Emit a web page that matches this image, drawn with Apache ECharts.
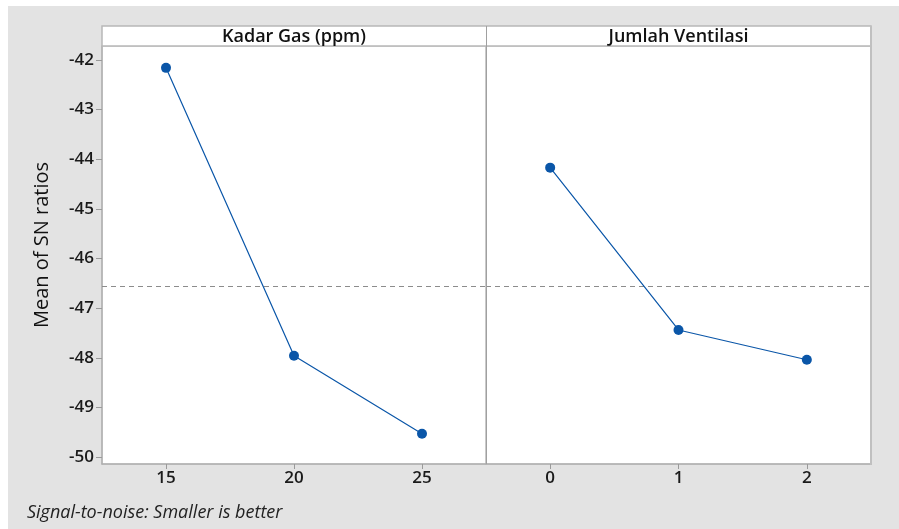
<!DOCTYPE html>
<html>
<head>
<meta charset="utf-8">
<script src="https://cdn.jsdelivr.net/npm/echarts@6/dist/echarts.min.js"></script>
<style>
html,body{margin:0;padding:0;background:#fff;}
#chart{width:899px;height:529px;}
</style>
</head>
<body>
<div id="chart"></div>
<script>
// ---- data ----
var gasLevels = ['15', '20', '25'];
var gasSN = [-42.16, -47.96, -49.53];
var ventLevels = ['0', '1', '2'];
var ventSN = [-44.17, -47.44, -48.04];
var overallMean = -46.55;
var yTicks = [-50, -49, -48, -47, -46, -45, -44, -43, -42];
var panelTitles = ['Kadar Gas (ppm)', 'Jumlah Ventilasi'];
var yTitle = 'Mean of SN ratios';
var footnote = 'Signal-to-noise: Smaller is better';

var FONT = '"Open Sans", "Noto Sans", sans-serif';
var BLUE = '#0a56a8';
var L = 102, MID = 486, R = 871, TOP = 46, STRIP = 26, BOT = 464;

var chart = echarts.init(document.getElementById('chart'), null, {renderer: 'canvas'});

function yAxisCfg(idx, show) {
  return {
    type: 'value', gridIndex: idx, min: -50.14, max: -41.72,
    splitLine: {show: false},
    axisLine: {show: show, lineStyle: {color: '#b0b0b0', width: 1.5}},
    axisTick: {show: show, length: 6, lineStyle: {color: '#9a9a9a'}, customValues: yTicks},
    axisLabel: {show: show, color: '#1a1a1a', fontSize: 17, fontWeight: 600, fontFamily: FONT, margin: 8, customValues: yTicks,
      formatter: function (v) { return String(v); }}
  };
}
function xAxisCfg(idx, cats) {
  return {
    type: 'category', gridIndex: idx, data: cats, boundaryGap: true,
    axisLine: {show: true, lineStyle: {color: '#b0b0b0', width: 1.5}},
    axisTick: {show: true, alignWithLabel: true, length: 5, lineStyle: {color: '#9a9a9a'}},
    axisLabel: {color: '#1a1a1a', fontSize: 17, fontWeight: 600, fontFamily: FONT, margin: 6},
    splitLine: {show: false}
  };
}
function seriesCfg(idx, vals) {
  return {
    type: 'line', xAxisIndex: idx, yAxisIndex: idx, data: vals,
    symbol: 'circle', symbolSize: 10, z: 5,
    lineStyle: {color: BLUE, width: 1.2},
    itemStyle: {color: BLUE},
    emphasis: {disabled: true},
    markLine: {
      silent: true, symbol: 'none', label: {show: false},
      lineStyle: {color: '#8c8c8c', type: [5, 4], width: 1},
      data: [{yAxis: overallMean}]
    }
  };
}

chart.setOption({
  animation: false,
  backgroundColor: '#ffffff',
  grid: [
    {left: L, top: TOP, width: MID - L, height: BOT - TOP, show: true, borderColor: '#b8b8b8', borderWidth: 1, backgroundColor: '#fff'},
    {left: MID, top: TOP, width: R - MID, height: BOT - TOP, show: true, borderColor: '#b8b8b8', borderWidth: 1, backgroundColor: '#fff'}
  ],
  xAxis: [xAxisCfg(0, gasLevels), xAxisCfg(1, ventLevels)],
  yAxis: [yAxisCfg(0, true), yAxisCfg(1, false)],
  series: [seriesCfg(0, gasSN), seriesCfg(1, ventSN)],
  graphic: [
    {type: 'rect', z: -10, silent: true, shape: {x: 8, y: 6, width: 891, height: 523}, style: {fill: '#e3e3e3'}},
    {type: 'rect', z: 10, silent: true, shape: {x: L, y: STRIP, width: R - L, height: TOP - STRIP}, style: {fill: '#fff', stroke: '#b8b8b8', lineWidth: 1.5}},
    {type: 'line', z: 10, silent: true, shape: {x1: MID + 0.5, y1: STRIP, x2: MID + 0.5, y2: BOT}, style: {stroke: '#a0a0a0', lineWidth: 1}},
    {type: 'line', z: 10, silent: true, shape: {x1: R, y1: STRIP, x2: R, y2: BOT + 1}, style: {stroke: '#c0c0c0', lineWidth: 2}},
    {type: 'text', z: 11, silent: true, x: (L + MID) / 2, y: (STRIP + TOP) / 2 + 1,
      style: {text: panelTitles[0], fill: '#111', font: '600 18px ' + FONT, align: 'center', verticalAlign: 'middle'}},
    {type: 'text', z: 11, silent: true, x: (MID + R) / 2, y: (STRIP + TOP) / 2 + 1,
      style: {text: panelTitles[1], fill: '#111', font: '600 18px ' + FONT, align: 'center', verticalAlign: 'middle'}},
    {type: 'text', z: 11, silent: true, x: 42, y: 245, rotation: Math.PI / 2,
      style: {text: yTitle, fill: '#111', font: '500 20px ' + FONT, align: 'center', verticalAlign: 'middle'}},
    {type: 'text', z: 11, silent: true, x: 27, y: 513,
      style: {text: footnote, fill: '#222', font: 'italic 18px ' + FONT, align: 'left', verticalAlign: 'middle'}}
  ]
});
</script>
</body>
</html>
